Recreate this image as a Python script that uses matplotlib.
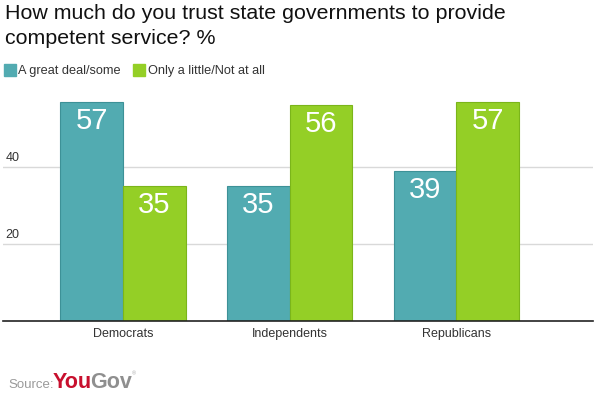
import numpy as np
import matplotlib.pyplot as plt

groups = ["Democrats", "Independents", "Republicans"]
great_deal = [57, 35, 39]
little_none = [35, 56, 57]
series_names = ["A great deal/some", "Only a little/Not at all"]
yticks = [20, 40]

blue = "#52abb1"
green = "#94cf26"

plt.rcParams['font.family'] = ['Liberation Sans', 'DejaVu Sans']

W, H = 597, 397
fig = plt.figure(figsize=(W / 100, H / 100), dpi=100)
ax = fig.add_axes([3 / W, 76 / H, 590 / W, 231 / H])

x = np.arange(len(groups))
w = 0.375
b1 = ax.bar(x - w / 2, great_deal, w, color=blue, edgecolor="#3d9197", linewidth=0.8, zorder=3)
b2 = ax.bar(x + w / 2, little_none, w, color=green, edgecolor="#7bb51a", linewidth=0.8, zorder=3)

for bars, vals in [(b1, great_deal), (b2, little_none)]:
    for r, v in zip(bars, vals):
        ax.annotate(str(v), (r.get_x() + r.get_width() / 2, v), xytext=(0, -19.5),
                    textcoords="offset points", ha="center", va="baseline",
                    color="white", fontsize=21, zorder=4)

ax.set_xlim(-0.72, 2.82)
ax.set_ylim(0, 60)
ax.set_xticks(x)
ax.set_xticklabels(groups, fontsize=9, color="#333333")
ax.tick_params(axis="x", length=0, pad=5)
ax.set_yticks([])
for t in yticks:
    ax.axhline(t, color="#d9d9d9", linewidth=1, zorder=1)
    ax.text(0.004, t + 0.9, str(t), transform=ax.get_yaxis_transform(),
            fontsize=9, color="#333333", ha="left", va="bottom")

for s in ["top", "right", "left"]:
    ax.spines[s].set_visible(False)
ax.spines["bottom"].set_color("#222222")
ax.spines["bottom"].set_linewidth(1.2)
ax.spines["bottom"].set_zorder(5)

fig.text(5 / W, 1 - 19 / H, "How much do you trust state governments to provide",
         fontsize=15.4, color="#111111", va="baseline")
fig.text(5 / W, 1 - 44 / H, "competent service? %",
         fontsize=15.4, color="#111111", va="baseline")

# legend
fig.patches.append(plt.Rectangle((4 / W, 1 - 76 / H), 12 / W, 12 / H,
                                 transform=fig.transFigure, color=blue))
fig.text(18 / W, 1 - 74 / H, series_names[0], fontsize=9.2, color="#333333", va="baseline")
fig.patches.append(plt.Rectangle((133 / W, 1 - 76 / H), 12 / W, 12 / H,
                                 transform=fig.transFigure, color=green))
fig.text(148 / W, 1 - 74 / H, series_names[1], fontsize=9.2, color="#333333", va="baseline")

# source + logo
fig.text(8 / W, 1 - 388 / H, "Source:", fontsize=9.5, color="#9a9a9a", va="baseline")
you = fig.text(53 / W, 1 - 388 / H, "You", fontsize=15.5, color="#c8102e", fontweight="bold",
               va="baseline")
fig.canvas.draw()
r = fig.canvas.get_renderer()
x_end = you.get_window_extent(r).x1
gov = fig.text((x_end - 2) / W, 1 - 388 / H, "Gov", fontsize=15.5, color="#8f8f8f",
               fontweight="bold", va="baseline")
x_end2 = gov.get_window_extent(r).x1
fig.text(x_end2 / W, 1 - 375 / H, "®", fontsize=4, color="#aaaaaa", va="baseline")

fig.savefig("out.png", dpi=100)
